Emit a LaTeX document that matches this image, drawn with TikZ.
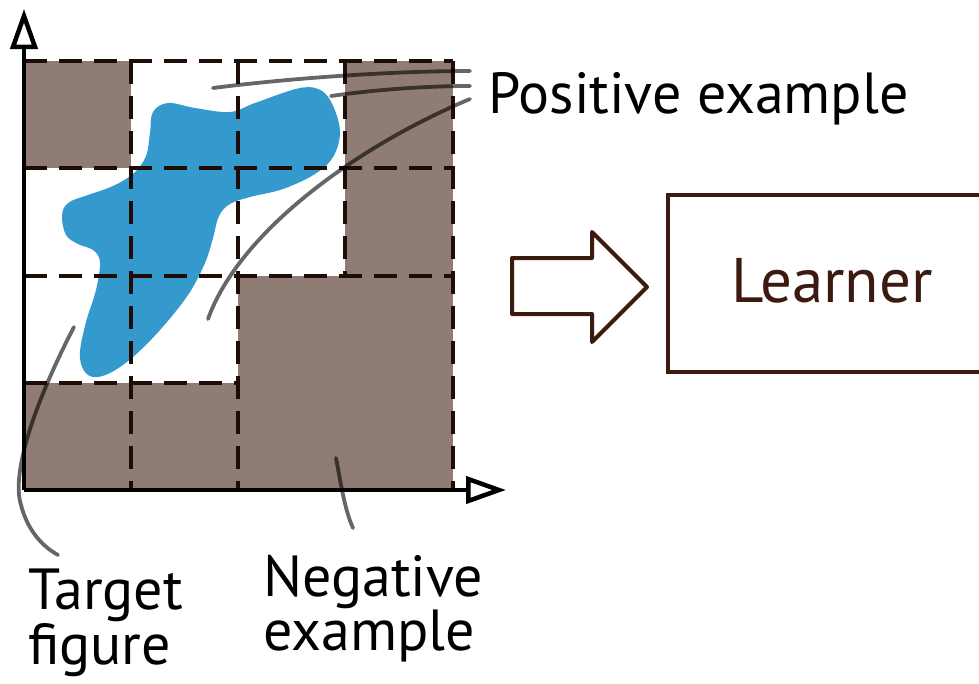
\documentclass[tikz,border=0pt]{standalone}
\usepackage{fontspec}
\setmainfont{PT Sans}
\usetikzlibrary{arrows.meta, positioning, calc}

\definecolor{negfill}{RGB}{143,124,116}
\definecolor{targetblue}{RGB}{52,153,204}
\definecolor{gridink}{RGB}{30,12,6}
\definecolor{learnink}{RGB}{61,26,16}

\begin{document}
\begin{tikzpicture}[
    x=1pt, y=-1pt,
    negcell/.style={fill=negfill},
    gridline/.style={draw=gridink, line width=4.3pt, dash pattern=on 23pt off 12pt},
    axis/.style={draw=black, line width=4.5pt, -{Triangle[open, length=40pt, width=27pt]}},
    leader/.style={draw=black, draw opacity=0.6, line width=3.8pt, line cap=round},
    lbl/.style={font=\fontsize{58}{52}\selectfont, align=left, inner sep=0pt},
    learnbox/.style={draw=learnink, line width=4pt, minimum width=328pt, minimum height=177pt, font=\fontsize{63}{70}\selectfont, text=learnink},
    feedarrow/.style={draw=learnink, line width=4pt, line join=round, fill=white}
  ]
  \useasboundingbox (0,0) rectangle (979,683);
  \clip (0,0) rectangle (979,683);

  % negative cells
  \fill[negcell] (24,61) rectangle (131,168);
  \fill[negcell] (345,61) rectangle (453,276);
  \fill[negcell] (238,276) rectangle (453,490);
  \fill[negcell] (24,383) rectangle (238,490);

  % target figure
  \fill[targetblue] plot[smooth cycle, tension=0.6] coordinates {
    (153,112) (168,103) (195,108) (230,112) (255,103) (300,88) (322,91)
    (334,108) (340,133) (333,157) (315,174) (283,189) (250,197) (230,204)
    (219,216) (213,238) (205,263) (188,295) (160,330) (133,357) (110,373)
    (93,377) (83,369) (80,352) (86,322) (96,290) (100,262) (93,250)
    (78,244) (66,235) (62,216) (68,203) (88,195) (113,186) (134,173)
    (146,156) (150,133)};

  % dashed grid
  \draw[gridline] (24,61) -- (453,61);
  \draw[gridline] (24,168) -- (453,168);
  \draw[gridline] (24,276) -- (453,276);
  \draw[gridline] (24,383) -- (238,383);
  \draw[gridline] (131,61) -- (131,490);
  \draw[gridline] (238,61) -- (238,490);
  \draw[gridline] (345,61) -- (345,276);
  \draw[gridline] (453,61) -- (453,490);

  % axes
  \coordinate (origin) at (24,490);
  \coordinate (ytip) at (24,9);
  \coordinate (xtip) at (506,490);
  \draw[axis] (origin) -- (ytip);
  \draw[axis] (origin) -- (xtip);

  % labels
  \node[lbl, anchor=base west] (pos) at (488,113) {Positive example};
  \node[lbl, anchor=base west, font=\fontsize{58}{50}\selectfont] (target) at (28,664) {Target\\figure};
  \node[lbl, anchor=base west] (neg) at (263,650) {Negative\\example};

  % leader lines
  \coordinate (posa) at (213,88);
  \coordinate (posb) at (331,96);
  \coordinate (posc) at (208,319);
  \coordinate (posa') at (470,71);
  \coordinate (posb') at (470,86);
  \coordinate (posc') at (470,99);
  \draw[leader] (posa) .. controls (300,77) and (400,71) .. (posa');
  \draw[leader] (posb) .. controls (380,89) and (430,86) .. (posb');
  \draw[leader] (posc) .. controls (240,230) and (360,145) .. (posc');

  \coordinate (targa) at (74,327);
  \coordinate (targm) at (21,505);
  \coordinate (targb) at (58,555);
  \draw[leader] (targa) .. controls (40,392) and (10,470) .. (targm)
    .. controls (27,528) and (40,545) .. (targb);

  \coordinate (nega) at (336,458);
  \coordinate (negb) at (353,528);
  \draw[leader] (nega) .. controls (342,490) and (345,510) .. (negb);

  % learner
  \node[learnbox] (learner) at (832,283.5) {\raisebox{6pt}{Learner}};
  \draw[feedarrow] (512,258) -- (592,258) -- (592,232) -- (647,287)
    -- (592,342) -- (592,314) -- (512,314) -- cycle;
\end{tikzpicture}
\end{document}
